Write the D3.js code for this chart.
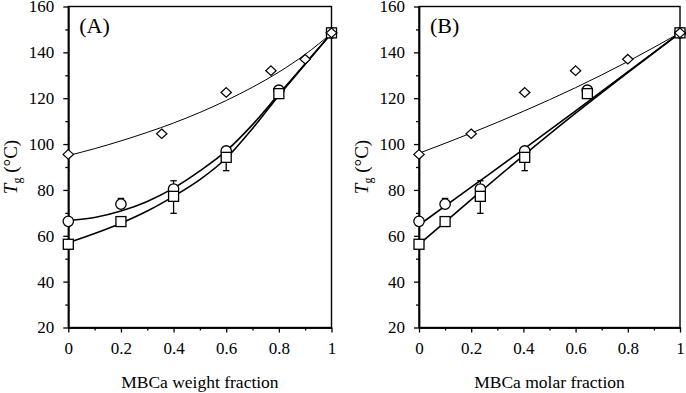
<!DOCTYPE html>
<html>
<head>
<meta charset="utf-8">
<script src="https://cdn.jsdelivr.net/npm/d3@7"></script>
<style>
  body { margin: 0; background: #fff; }
  svg text { font-family: "Liberation Serif", "Times New Roman", Times, "DejaVu Serif", serif !important; fill: #000; }
</style>
</head>
<body>
<div id="chart"></div>
<script>
// measured Tg values (deg C), same samples in both panels
const tgCircle  = [66.3, 73.8, 80.4, 97, 123.5, 148.5];
const tgSquare  = [56.3, 66.2, 77.2, 94.2, 122, 148.5];
const tgDiamond = [95.5, 104.5, 122.5, 132, 137, 148.5];
const errCircleUp  = [0, 2.5, 3.6, 0, 0, 0];
const errSquareDown = [0, 0, 7.4, 5.8, 0, 0];

// composition of the samples
const wCS = [0, 0.2, 0.4, 0.6, 0.8, 1];        // weight fraction, circle / square
const wDia = [0, 0.355, 0.6, 0.77, 0.9, 1];    // weight fraction, diamond
const mCS = [0, 0.1, 0.235, 0.405, 0.645, 1];  // molar fraction, circle / square
const mDia = [0, 0.2, 0.405, 0.6, 0.8, 1];     // molar fraction, diamond

// fitted curves
const fitX = [0, 0.1, 0.2, 0.3, 0.4, 0.5, 0.6, 0.7, 0.8, 0.9, 1];
const fitA_circle  = [66.7, 68, 70.8, 75, 80.8, 88.3, 97, 108.5, 121.8, 135, 148.3];
const fitA_square  = [57, 61, 65.5, 70.8, 77.2, 84.5, 93.8, 106.8, 121.2, 134.8, 148.3];
const fitA_diamond = [95, 98, 101.4, 105.1, 109.2, 113.8, 119, 124.8, 131.4, 139.1, 148.3];
const fitXB = [0, 0.2, 0.4, 0.6, 0.8, 1];
const fitB_circle  = [64.7, 81.2, 97.7, 114.5, 131.5, 148.5];
const fitB_square  = [56.3, 75.8, 95, 113.5, 131.2, 148.5];
const fitB_diamond = [96, 104.8, 114.3, 124.6, 136, 148.5];

const xTicks = [0, 0.2, 0.4, 0.6, 0.8, 1];
const xMinor = [0.1, 0.3, 0.5, 0.7, 0.9];
const yTicks = [20, 40, 60, 80, 100, 120, 140, 160];
const yMinor = [30, 50, 70, 90, 110, 130, 150];

const W = 686, H = 393;
const top_y = 6.5, bot_y = 327.5;
const serif = '"Liberation Serif", "Times New Roman", Times, "DejaVu Serif", serif';

const svg = d3.select('#chart').append('svg')
    .attr('width', W).attr('height', H)
    .attr('font-family', serif);

function pairs(xs, ys) { return xs.map((x, i) => [x, ys[i]]); }

function drawPanel(p) {
    const x = d3.scaleLinear().domain([0, 1]).range([p.x0, p.x1]);
    const y = d3.scaleLinear().domain([20, 160]).range([bot_y, top_y]);
    const g = svg.append('g');

    // frame
    g.append('rect')
        .attr('x', p.x0).attr('y', top_y)
        .attr('width', p.x1 - p.x0).attr('height', bot_y - top_y)
        .attr('fill', 'none').attr('stroke', '#000').attr('stroke-width', 1.4);

    // axes
    g.append('g').attr('transform', 'translate(0,' + bot_y + ')')
        .call(d3.axisBottom(x).tickValues(xTicks).tickSize(5).tickSizeOuter(0).tickPadding(9)
            .tickFormat(d => d3.format('~g')(d)));
    g.append('g').attr('transform', 'translate(0,' + bot_y + ')')
        .call(d3.axisBottom(x).tickValues(xMinor).tickSize(3).tickSizeOuter(0).tickFormat(''));
    g.append('g').attr('transform', 'translate(' + p.x0 + ',0)')
        .call(d3.axisLeft(y).tickValues(yTicks).tickSize(5).tickSizeOuter(0).tickPadding(9));
    g.append('g').attr('transform', 'translate(' + p.x0 + ',0)')
        .call(d3.axisLeft(y).tickValues(yMinor).tickSize(3).tickSizeOuter(0).tickFormat(''));
    g.selectAll('g').attr('font-family', serif);
    g.selectAll('.domain').attr('stroke-width', 1.4);
    g.selectAll('.tick line').attr('stroke-width', 1.3);
    g.selectAll('.tick text').attr('font-size', 17).style('font-family', serif);

    // fit lines
    const line = d3.line().x(d => x(d[0])).y(d => y(d[1])).curve(d3.curveMonotoneX);
    [[p.fitX, p.fitCircle, 1.6], [p.fitX, p.fitSquare, 1.6], [p.fitX, p.fitDiamond, 1]].forEach(f => {
        g.append('path').datum(pairs(f[0], f[1]))
            .attr('d', line).attr('fill', 'none')
            .attr('stroke', '#000').attr('stroke-width', f[2]);
    });

    // error bars
    const cap = 3.2;
    const eb = g.append('g').attr('stroke', '#000').attr('stroke-width', 1.3);
    p.xCS.forEach((xv, i) => {
        if (errCircleUp[i] > 0) {
            const yy = y(tgCircle[i] + errCircleUp[i]);
            eb.append('line').attr('x1', x(xv)).attr('x2', x(xv)).attr('y1', y(tgCircle[i])).attr('y2', yy);
            eb.append('line').attr('x1', x(xv) - cap).attr('x2', x(xv) + cap).attr('y1', yy).attr('y2', yy);
        }
        if (errSquareDown[i] > 0) {
            const yy = y(tgSquare[i] - errSquareDown[i]);
            eb.append('line').attr('x1', x(xv)).attr('x2', x(xv)).attr('y1', y(tgSquare[i])).attr('y2', yy);
            eb.append('line').attr('x1', x(xv) - cap).attr('x2', x(xv) + cap).attr('y1', yy).attr('y2', yy);
        }
    });

    // markers
    g.selectAll('.circ').data(pairs(p.xCS, tgCircle)).enter().append('circle')
        .attr('class', 'circ')
        .attr('cx', d => x(d[0])).attr('cy', d => y(d[1])).attr('r', 5.2)
        .attr('fill', '#fff').attr('stroke', '#000').attr('stroke-width', 1.3);
    g.selectAll('.sq').data(pairs(p.xCS, tgSquare)).enter().append('rect')
        .attr('class', 'sq')
        .attr('x', d => x(d[0]) - 5).attr('y', d => y(d[1]) - 5)
        .attr('width', 10).attr('height', 10)
        .attr('fill', '#fff').attr('stroke', '#000').attr('stroke-width', 1.3);
    g.selectAll('.dia').data(pairs(p.xDia, tgDiamond)).enter().append('path')
        .attr('class', 'dia')
        .attr('d', d => {
            const cx = x(d[0]), cy = y(d[1]), rx = 5.2, ry = 4.8;
            return 'M' + cx + ',' + (cy - ry) + 'L' + (cx + rx) + ',' + cy + 'L' + cx + ',' + (cy + ry) + 'L' + (cx - rx) + ',' + cy + 'Z';
        })
        .attr('fill', '#fff').attr('stroke', '#000').attr('stroke-width', 1.2);

    // panel letter
    g.append('text').attr('x', p.x0 + 11).attr('y', 33)
        .attr('font-size', 22).text(p.letter);

    // axis titles
    g.append('text').attr('x', (p.x0 + p.x1) / 2).attr('y', 388)
        .attr('text-anchor', 'middle').attr('font-size', 17.5).text(p.xTitle);
    const yt = g.append('text')
        .attr('transform', 'translate(' + (p.x0 - 51) + ',' + ((top_y + bot_y) / 2) + ') rotate(-90)')
        .attr('text-anchor', 'middle').attr('font-size', 19);
    yt.append('tspan').attr('font-style', 'italic').text('T');
    yt.append('tspan').attr('font-size', 12).attr('dy', 4).text('g');
    yt.append('tspan').attr('dy', -4).text(' (°C)');
}

drawPanel({
    x0: 68.3, x1: 331.5, letter: '(A)', xTitle: 'MBCa weight fraction',
    xCS: wCS, xDia: wDia,
    fitX: fitX, fitCircle: fitA_circle, fitSquare: fitA_square, fitDiamond: fitA_diamond
});
drawPanel({
    x0: 419, x1: 680, letter: '(B)', xTitle: 'MBCa molar fraction',
    xCS: mCS, xDia: mDia,
    fitX: fitXB, fitCircle: fitB_circle, fitSquare: fitB_square, fitDiamond: fitB_diamond
});
</script>
</body>
</html>
